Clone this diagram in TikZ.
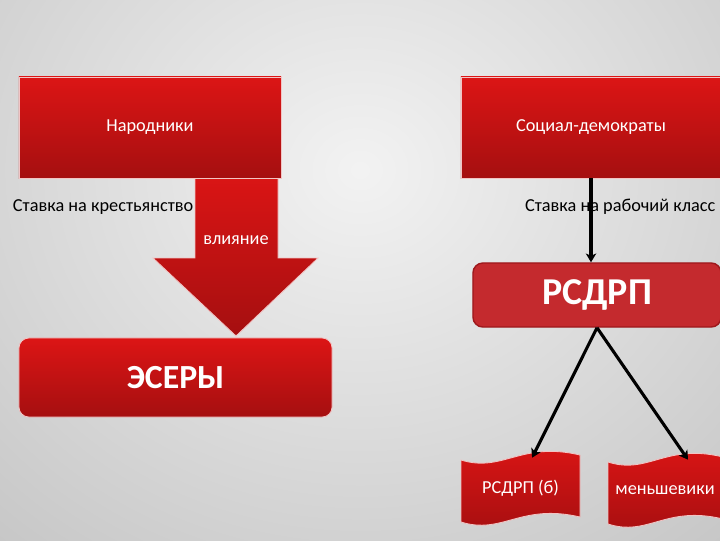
\documentclass[tikz,border=0pt]{standalone}
\usepackage{fontspec}
\setmainfont{Carlito}
\usetikzlibrary{arrows.meta,positioning}

\definecolor{redtop}{HTML}{DC1515}
\definecolor{redbot}{HTML}{A50F10}
\definecolor{partyfill}{HTML}{C42A2E}
\definecolor{partyline}{HTML}{9E181C}
\definecolor{edge}{HTML}{F2C4C4}

\tikzset{
  redbox/.style={draw=edge, line width=0.6pt, top color=redtop, bottom color=redbot,
    text=white, inner sep=0pt, font=\fontsize{13}{15}\selectfont},
  bigbox/.style={redbox, rounded corners=7pt, font=\fontsize{24}{28}\selectfont\bfseries},
  partybox/.style={draw=partyline, line width=1pt, fill=partyfill, rounded corners=7pt,
    text=white, inner sep=0pt, font=\fontsize{27}{30}\selectfont\bfseries},
  plain/.style={font=\fontsize{13}{15}\selectfont},
  link/.style={line width=2.2pt, -{Stealth[length=2.2mm,width=2.6mm,inset=0.6mm]}}
}

% wavy banner: left, right, top
\newcommand{\wavyflag}[3]{%
  \shade[top color=redtop, bottom color=redbot, draw=edge, line width=0.6pt]
    ({#1},{#3+7}) .. controls ({#1+0.35*(#2-#1)},{#3+20}) and ({#1+0.5*(#2-#1)},{#3-12}) .. ({#2},{#3+2})
    -- ({#2},{#3+64}) .. controls ({#1+0.5*(#2-#1)},{#3+50}) and ({#1+0.35*(#2-#1)},{#3+82}) .. ({#1},{#3+69})
    -- cycle;}

\begin{document}
\begin{tikzpicture}[x=0.025cm,y=-0.025cm]
\useasboundingbox (0,0) rectangle (720,540);
\shade[inner color=gray!10, outer color=gray!48] (-260,-380) rectangle (980,720);

% left
\shade[top color=redtop, bottom color=redbot, draw=edge, line width=0.6pt]
  (195,170) -- (278,170) -- (278,258) -- (318,258) -- (236,336) -- (153,258) -- (195,258) -- cycle;
\node[redbox, minimum width=6.55cm, minimum height=2.525cm] (narod) at (150,127.5) {Народники};
\node[plain, anchor=east, inner sep=1pt] (krest) at (195,207) {Ставка на крестьянство};
\node[plain, text=white] (vliyanie) at (236,240) {влияние};
\node[bigbox, minimum width=7.825cm, minimum height=1.975cm] (esery) at (175.5,377.5) {ЭСЕРЫ};

% right
\node[redbox, minimum width=6.5cm, minimum height=2.525cm] (socdem) at (591,127.5) {Социал-демократы};
\node[plain, anchor=east, inner sep=1pt] (rabkl) at (717,207) {Ставка на рабочий класс};
\node[partybox, minimum width=6.2cm, minimum height=1.6cm] (rsdrp) at (597,295) {РСДРП};
\draw[link] (socdem.south) -- (socdem.south |- rsdrp.north);

\wavyflag{461}{580}{453}
\wavyflag{608}{723}{455}
\node[plain, text=white, minimum width=2.975cm, minimum height=1.5cm] (bolsh) at (520.5,488) {РСДРП (б)};
\node[plain, text=white, minimum width=2.875cm, minimum height=1.5cm] (mensh) at (665,490) {меньшевики};
\draw[link] (rsdrp.south) -- ([xshift=0.29cm]bolsh.north);
\draw[link] (rsdrp.south) -- ([xshift=0.575cm]mensh.north);
\end{tikzpicture}
\end{document}
